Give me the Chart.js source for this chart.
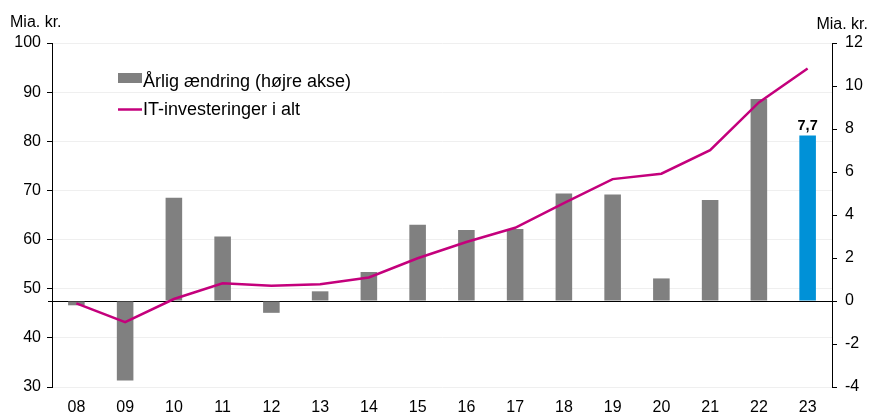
<!DOCTYPE html>
<html>
<head>
<meta charset="utf-8">
<script src="https://cdn.jsdelivr.net/npm/chart.js@4.4.1/dist/chart.umd.min.js"></script>
<style>
  html, body { margin: 0; padding: 0; background: #fff; }
  #wrap { width: 869px; height: 413px; }
</style>
</head>
<body>
<div id="wrap"><canvas id="myChart" width="869" height="413"></canvas></div>
<script>
const years = ['08', '09', '10', '11', '12', '13', '14', '15', '16', '17', '18', '19', '20', '21', '22', '23'];
// årlig ændring, mia. kr. (højre akse)
const aendring = [-0.2, -3.7, 4.8, 3.0, -0.55, 0.45, 1.35, 3.55, 3.3, 3.35, 5.0, 4.95, 1.05, 4.7, 9.4, 7.7];
// IT-investeringer i alt, mia. kr. (venstre akse)
const itInvest = [47.0, 43.2, 47.9, 51.1, 50.6, 50.9, 52.3, 56.2, 59.5, 62.4, 67.4, 72.3, 73.4, 78.2, 87.9, 94.8];

const GREY = '#808080';
const BLUE = '#0091d7';
const MAGENTA = '#c4007c';
const FONT = '"Liberation Sans", Arial, sans-serif';

Chart.defaults.font.family = FONT;
Chart.defaults.font.size = 16;
Chart.defaults.color = '#000';

const barColors = aendring.map((v, i) => i === aendring.length - 1 ? BLUE : GREY);

const extras = {
  id: 'extras',
  beforeDatasetsDraw(chart) {
    const ctx = chart.ctx;
    const area = chart.chartArea;
    const y0 = Math.round(chart.scales.y1.getPixelForValue(0)) + 0.5;
    ctx.save();
    ctx.strokeStyle = '#000';
    ctx.lineWidth = 1;
    ctx.beginPath();
    ctx.moveTo(area.left - 4, y0);
    ctx.lineTo(area.right, y0);
    ctx.stroke();
    ctx.restore();
  },
  afterDraw(chart) {
    const ctx = chart.ctx;
    ctx.save();
    ctx.fillStyle = '#000';
    ctx.font = '16px ' + FONT;
    ctx.textBaseline = 'alphabetic';
    ctx.textAlign = 'left';
    ctx.fillText('Mia. kr.', 10, 27);
    ctx.textAlign = 'right';
    ctx.fillText('Mia. kr.', 868, 29);

    // legend
    ctx.font = '18px ' + FONT;
    ctx.textAlign = 'left';
    ctx.fillStyle = GREY;
    ctx.fillRect(118, 73, 24, 10);
    ctx.fillStyle = '#000';
    ctx.fillText(chart.data.datasets[1].label, 143, 86.5);
    ctx.strokeStyle = MAGENTA;
    ctx.lineWidth = 2.5;
    ctx.beginPath();
    ctx.moveTo(118, 109.5);
    ctx.lineTo(142, 109.5);
    ctx.stroke();
    ctx.fillText(chart.data.datasets[0].label, 143, 115);

    // value label on last bar
    const meta = chart.getDatasetMeta(1);
    const last = meta.data[meta.data.length - 1];
    const v = aendring[aendring.length - 1];
    ctx.font = 'bold 14.5px ' + FONT;
    ctx.textAlign = 'center';
    ctx.fillText(v.toFixed(1).replace('.', ','), last.x, last.y - 5);
    ctx.restore();
  }
};

const ctx = document.getElementById('myChart').getContext('2d');
const myChart = new Chart(ctx, {
  type: 'bar',
  data: {
    labels: years,
    datasets: [{
      type: 'line',
      label: 'IT-investeringer i alt',
      data: itInvest,
      yAxisID: 'y',
      borderColor: MAGENTA,
      borderWidth: 2.5,
      pointRadius: 0,
      tension: 0,
      order: 0
    }, {
      type: 'bar',
      label: 'Årlig ændring (højre akse)',
      data: aendring,
      yAxisID: 'y1',
      backgroundColor: barColors,
      barPercentage: 0.34,
      categoryPercentage: 1,
      order: 1
    }]
  },
  options: {
    responsive: false,
    animation: false,
    layout: { padding: { top: 43, left: 0, right: 0, bottom: 0 } },
    plugins: {
      legend: { display: false },
      tooltip: { enabled: false }
    },
    scales: {
      x: {
        offset: true,
        grid: { display: false },
        border: { display: false },
        ticks: { padding: 3, maxRotation: 0 },
        afterFit: (s) => { s.height = 26; }
      },
      y: {
        position: 'left',
        min: 30, max: 100,
        ticks: { stepSize: 10, padding: 6 },
        grid: { color: '#efefef', tickColor: '#000', tickLength: 5 },
        border: { display: true, color: '#000', width: 1 },
        afterFit: (s) => { s.width = 52; }
      },
      y1: {
        position: 'right',
        min: -4, max: 12,
        ticks: { stepSize: 2, padding: 8 },
        grid: { drawOnChartArea: false, tickColor: '#000', tickLength: 5 },
        border: { display: true, color: '#000', width: 1 },
        afterFit: (s) => { s.width = 37; }
      }
    }
  },
  plugins: [extras]
});
</script>
</body>
</html>
